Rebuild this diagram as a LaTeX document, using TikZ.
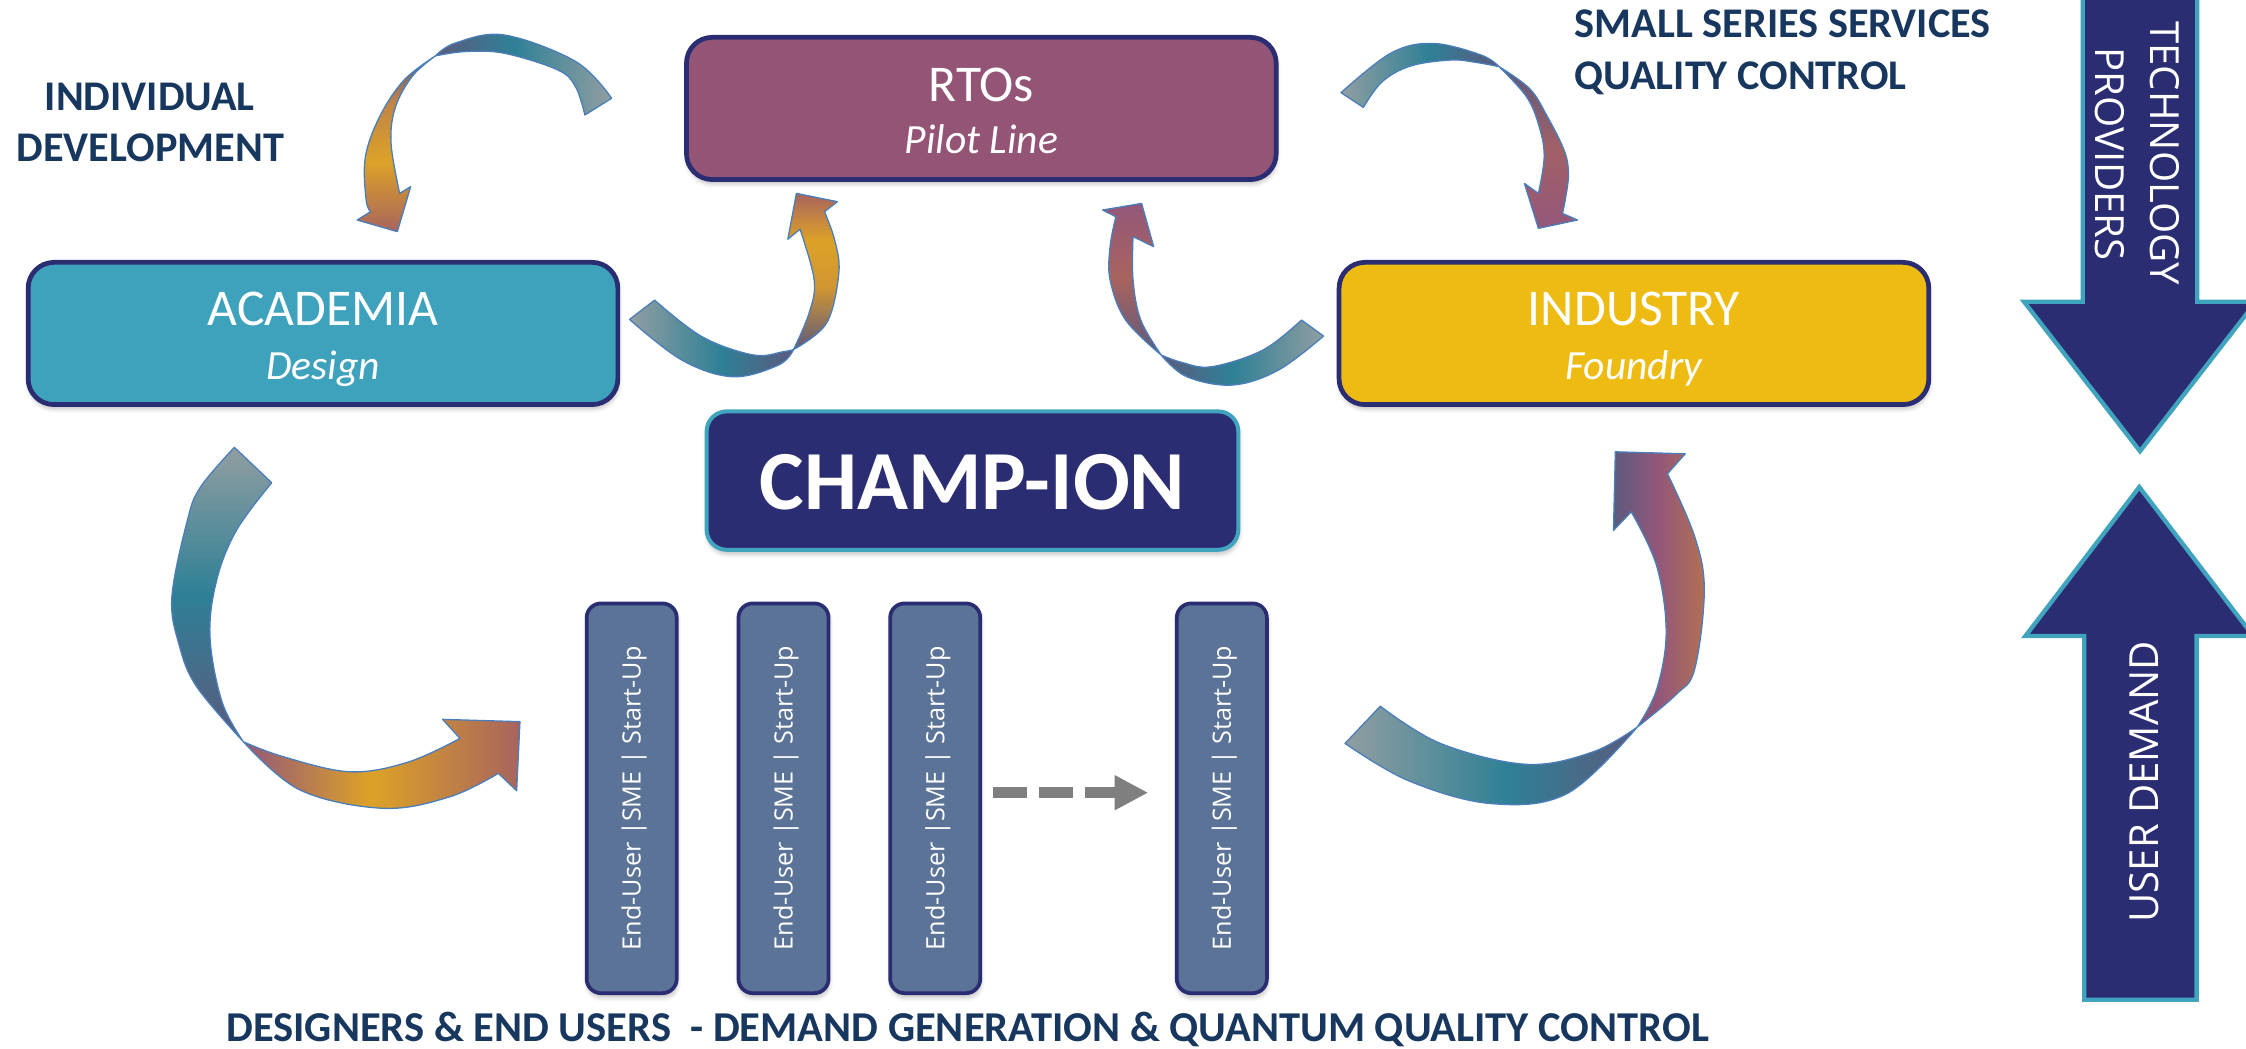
\documentclass[tikz,border=0pt]{standalone}
\usepackage{fontspec}
\setmainfont{Carlito}
\newfontfamily\osans{Open Sans}
\usetikzlibrary{arrows.meta,shadows.blur}
\definecolor{navy}{HTML}{2B2D72}
\definecolor{tealedge}{HTML}{40A4BF}
\definecolor{rtofill}{HTML}{935476}
\definecolor{acafill}{HTML}{3EA2BD}
\definecolor{indfill}{HTML}{EEBB13}
\definecolor{barfill}{HTML}{5C7398}
\definecolor{labelblue}{HTML}{17375E}
\definecolor{agray}{HTML}{919EA1}
\definecolor{ateal}{HTML}{2E8096}
\definecolor{apurp}{HTML}{5C5A7D}
\definecolor{amauve}{HTML}{93577A}
\definecolor{aorange}{HTML}{DCA227}
\definecolor{abrown}{HTML}{A8645E}
\definecolor{aline}{HTML}{4A7EBB}
\definecolor{dashgray}{HTML}{7F7F7F}
\pgfdeclarehorizontalshading{shTailL}{100bp}{color(0bp)=(apurp); color(25bp)=(apurp); color(47bp)=(ateal); color(75bp)=(agray); color(100bp)=(agray)}
\pgfdeclarehorizontalshading{shTailR}{100bp}{color(0bp)=(agray); color(25bp)=(agray); color(53bp)=(ateal); color(75bp)=(apurp); color(100bp)=(apurp)}
\pgfdeclareverticalshading{shTailV}{100bp}{color(0bp)=(apurp); color(25bp)=(apurp); color(50bp)=(ateal); color(75bp)=(agray); color(100bp)=(agray)}
\pgfdeclareverticalshading{shArmA}{100bp}{color(0bp)=(abrown); color(25bp)=(abrown); color(45bp)=(aorange); color(62bp)=(aorange!60!amauve); color(75bp)=(apurp); color(100bp)=(apurp)}
\pgfdeclareverticalshading{shRiseOr}{100bp}{color(0bp)=(apurp); color(25bp)=(apurp); color(45bp)=(aorange!80!abrown); color(60bp)=(aorange); color(75bp)=(abrown); color(100bp)=(abrown)}
\pgfdeclareverticalshading{shRiseMv}{100bp}{color(0bp)=(apurp); color(25bp)=(apurp); color(50bp)=(abrown); color(75bp)=(amauve); color(100bp)=(amauve)}
\pgfdeclareverticalshading{shArmMv}{100bp}{color(0bp)=(amauve); color(25bp)=(amauve); color(50bp)=(abrown!70!amauve); color(75bp)=(apurp); color(100bp)=(apurp)}
\pgfdeclarehorizontalshading{shBotOr}{100bp}{color(0bp)=(amauve); color(25bp)=(amauve); color(48bp)=(aorange); color(75bp)=(abrown); color(100bp)=(abrown)}
\pgfdeclarehorizontalshading{shRiseSix}{100bp}{color(0bp)=(apurp); color(25bp)=(apurp); color(50bp)=(amauve); color(75bp)=(abrown!80!aorange); color(100bp)=(abrown!80!aorange)}
\begin{document}
\begin{tikzpicture}[x=1pt,y=-1pt,
  shadowed/.style={blur shadow={shadow blur steps=6, shadow xshift=0.5pt, shadow yshift=-3pt, shadow opacity=25, shadow blur radius=3pt}},
  tbox/.style={draw=navy, line width=3.3pt, rounded corners=18pt, minimum width=411.7pt, minimum height=99.3pt, inner sep=0pt, shadowed},
  title/.style={text=white, inner sep=0pt, anchor=base, font=\fontsize{36}{43}\selectfont},
  sub/.style={text=white, inner sep=0pt, anchor=base, font=\fontsize{29}{35}\selectfont\itshape},
  lbl/.style={text=labelblue, inner sep=0pt, font=\fontsize{29.5}{36}\selectfont\bfseries},
  barbox/.style={draw=navy, fill=barfill, line width=2.6pt, rounded corners=10pt, minimum width=62.9pt, minimum height=272.1pt, inner sep=0pt, shadowed},
  bartext/.style={text=white, inner sep=0pt, rotate=90, anchor=base, font=\osans\fontsize{17.6}{20}\selectfont},
  rib/.style={draw=aline, line width=0.9pt, line join=round, shade},
  bigarrow/.style={fill=navy, draw=tealedge, line width=3pt, line join=miter},
  sidetext/.style={text=white, inner sep=0pt, anchor=base, font=\osans\fontsize{28}{34}\selectfont}
]
\useasboundingbox (0,0) rectangle (1568,732);
\clip (0,0) rectangle (1568,732);

% ---------- curved ribbon arrows ----------
% 1: RTOs -> Academia (top left)
\path[rib, shading=shTailL] (427,68.6) -- plot[smooth, tension=0.6] coordinates {(427,68.6) (402,43) (352,24.4) (318,30) (304,39)} -- plot[smooth, tension=0.6] coordinates {(304,39) (325,36) (352.2,37.2) (389.6,48.9) (402,61) (408.3,80.3)} -- cycle;
\path[rib, shading=shArmA] (304,39) -- plot[smooth, tension=0.6] coordinates {(304,39) (282,56) (265,81.5) (255,110) (255.6,139.6) (258.7,147.8)} -- (249.3,153.6) -- (277.4,161.7) -- (286.7,130.3) -- (279,135) -- plot[smooth, tension=0.6] coordinates {(279,135) (273,100) (276,75) (288,53) (304,39)} -- cycle;
% 4: RTOs -> Industry (top right)
\path[rib, shading=shTailR] (936.2,64.7) -- plot[smooth, tension=0.6] coordinates {(936.2,64.7) (970.8,37.2) (1000.2,30.3) (1034,38.4) (1046.5,46.5)} -- plot[smooth, tension=0.6] coordinates {(1046.5,46.5) (1030,43.5) (1012.9,41.9) (985,46) (965,57) (951.8,75)} -- cycle;
\path[rib, shading=shArmMv] (1046.5,46.5) -- plot[smooth, tension=0.6] coordinates {(1046.5,46.5) (1068,62) (1080.3,81.5) (1092,105) (1095,121) (1093,138) (1090.8,149)} -- (1101.3,153.6) -- (1074,159.4) -- (1064.2,128) -- (1074,135) -- plot[smooth, tension=0.6] coordinates {(1074,135) (1078,110) (1075,90) (1066,68) (1046.5,46.5)} -- cycle;
% 2: Academia -> RTOs
\path[rib, shading=shTailR] (457,209.5) -- (439.5,223) -- plot[smooth, tension=0.6] coordinates {(439.5,223) (475.9,251.3) (511.5,263) (543.6,254.8) (554,244)} -- plot[smooth, tension=0.6] coordinates {(554,244) (547,245.5) (525.8,247.8) (490,235) (457,209.5)} -- cycle;
\path[rib, shading=shRiseOr] (554,244) -- plot[smooth, tension=0.6] coordinates {(554,244) (577,225.6) (585.6,190.6) (582.7,167.6) (575.6,147.8)} -- (584.6,140.8) -- (556,135) -- (550,167) -- (558.5,160) -- plot[smooth, tension=0.6] coordinates {(558.5,160) (568.4,195.5) (564.8,218.7) (554,244)} -- cycle;
% 3: Industry -> RTOs
\path[rib, shading=shTailL] (908.6,223.4) -- (924,234.6) -- plot[smooth, tension=0.6] coordinates {(924,234.6) (892.6,258.3) (860.6,268.8) (828.5,263) (810.6,247.8)} -- plot[smooth, tension=0.6] coordinates {(810.6,247.8) (825,253) (846,256) (881.8,244.3) (908.6,223.4)} -- cycle;
\path[rib, shading=shRiseMv] (810.6,247.8) -- plot[smooth, tension=0.6] coordinates {(810.6,247.8) (785.8,223.4) (775,195.5) (775,172) (779,151.3)} -- (769.8,146.6) -- (797,142) -- (805.4,172.2) -- (791,165.2) -- plot[smooth, tension=0.6] coordinates {(791,165.2) (791,195.5) (796.4,223.4) (810.6,247.8)} -- cycle;
% 5: Academia -> users (big left)
\path[rib, shading=shTailV] (163.6,312.3) -- plot[smooth, tension=0.6] coordinates {(163.6,312.3) (140,340) (130.9,363) (120,416.6) (125,450) (137.3,479.4) (169.9,517.8)} -- plot[smooth, tension=0.6] coordinates {(169.9,517.8) (155,490) (146.6,444.5) (151.3,404.9) (165.2,370) (189.7,337)} -- cycle;
\path[rib, shading=shBotOr] (169.9,517.8) -- plot[smooth, tension=0.6] coordinates {(169.9,517.8) (209.4,551.5) (267.6,564.3) (314.2,556.2) (347.9,539.9)} -- (360.7,552) -- (363,503.8) -- (309,502.2) -- (321.1,515.5) -- plot[smooth, tension=0.6] coordinates {(321.1,515.5) (285,532) (244.3,538.8) (197.8,528.3) (169.9,517.8)} -- cycle;
% 6: users -> Industry (big right)
\path[rib, shading=shTailR] (939,519) -- plot[smooth, tension=0.6] coordinates {(939,519) (983.5,545.1) (1041,561) (1094.4,553.8) (1143,507.6)} -- plot[smooth, tension=0.6] coordinates {(1143,507.6) (1112.1,524.9) (1065.7,533.6) (1005.8,519.1) (963.6,493)} -- cycle;
\path[rib, shading=shRiseSix] (1143,507.6) -- plot[smooth, tension=0.6] coordinates {(1143,507.6) (1170,485) (1183.1,467.1) (1189.8,412.2) (1183.1,374.6) (1164.1,330.7)} -- (1176.5,316.8) -- (1127.7,315.4) -- (1126.4,370.3) -- (1138.8,357.3) -- plot[smooth, tension=0.6] coordinates {(1138.8,357.3) (1156.5,394.9) (1163.2,441.3) (1156.5,481.5) (1143,507.6)} -- cycle;

% ---------- main boxes ----------
\node[tbox, fill=rtofill] (rto) at (685.1,75.7) {};
\node[title] (rtoT) at (685.1,71) {RTOs};
\node[sub] (rtoS) at (685.1,107.5) {Pilot Line};
\node[tbox, fill=acafill] (aca) at (225.5,232.8) {};
\node[title] (acaT) at (225.5,227) {ACADEMIA};
\node[sub] (acaS) at (225.5,264.7) {Design};
\node[tbox, fill=indfill] (indu) at (1140.7,232.8) {};
\node[title] (induT) at (1140.7,227) {INDUSTRY};
\node[sub] (induS) at (1140.7,264.7) {Foundry};
\node[draw=tealedge, fill=navy, line width=2.8pt, rounded corners=14pt, minimum width=371.2pt, minimum height=96.6pt, inner sep=0pt, shadowed] (champ) at (678.9,335.5) {};
\node[text=white, anchor=base, inner sep=0pt, font=\fontsize{58.7}{70}\selectfont\bfseries] (champT) at (679,356) {CHAMP-ION};

% ---------- user bars ----------
\foreach \i/\x in {1/441,2/547,3/652.9,4/853} {
  \node[barbox] (bar\i) at (\x,557.3) {};
  \node[bartext] (bt\i) at (\x+6.3,557.3) {End-User |SME | Start-Up};
}
\coordinate (dstart) at (693.2,553.4);
\coordinate (dend) at (801.6,553.4);
\draw[dashgray, line width=7.7pt, dash pattern=on 23.7pt off 8.4pt, -{Triangle[length=23.4pt,width=22.8pt]}] (dstart) -- (dend);

% ---------- side arrows ----------
\path[bigarrow] (1454,-10) -- (1454,210.6) -- (1413,210.6) -- (1494,315) -- (1575,210.6) -- (1534,210.6) -- (1534,-10) -- cycle;
\path[bigarrow] (1455,698) -- (1455,444) -- (1414,444) -- (1493.5,340) -- (1573,444) -- (1533.5,444) -- (1533.5,698) -- cycle;
\node[sidetext, rotate=-90] (tech) at (1501.6,107) {TECHNOLOGY};
\node[sidetext, rotate=-90] (prov) at (1462.6,107.6) {PROVIDERS};
\node[sidetext, rotate=90] (udem) at (1506.6,545.7) {USER DEMAND};

% ---------- labels ----------
\node[lbl, anchor=base] (ind1) at (104.5,76.8) {INDIVIDUAL};
\node[lbl, anchor=base] (ind2) at (105,112.9) {DEVELOPMENT};
\node[lbl, anchor=base west] (ss1) at (1099.2,26) {SMALL SERIES SERVICES};
\node[lbl, anchor=base west] (ss2) at (1099.2,62.4) {QUALITY CONTROL};
\node[lbl, anchor=base west, font=\fontsize{29.7}{36}\selectfont\bfseries] (bottom) at (157.8,727.3) {DESIGNERS \& END USERS\ \ - DEMAND GENERATION \& QUANTUM QUALITY CONTROL};
\end{tikzpicture}
\end{document}
